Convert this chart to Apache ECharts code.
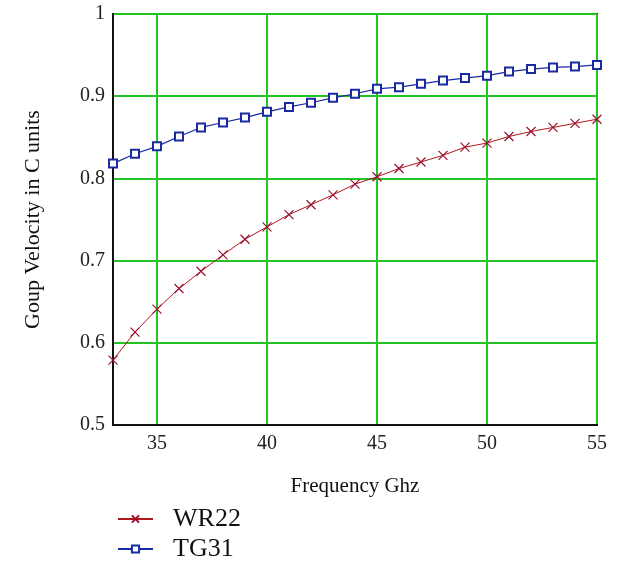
<!DOCTYPE html>
<html><head><meta charset="utf-8">
<script src="https://cdn.jsdelivr.net/npm/echarts@6/dist/echarts.min.js"></script>
<style>html,body{margin:0;padding:0;background:#fff}#c{width:621px;height:563px}</style>
</head><body><div id="c"></div>
<script>
const freq = [33,34,35,36,37,38,39,40,41,42,43,44,45,46,47,48,49,50,51,52,53,54,55];
const wr22 = [0.579,0.613,0.641,0.666,0.687,0.707,0.726,0.741,0.756,0.768,0.780,0.793,0.802,0.812,0.820,0.828,0.838,0.843,0.851,0.857,0.862,0.867,0.872];
const tg31 = [0.818,0.830,0.839,0.851,0.862,0.868,0.874,0.881,0.887,0.892,0.898,0.903,0.909,0.911,0.915,0.919,0.922,0.925,0.930,0.933,0.935,0.936,0.938];
const xTicks = [35,40,45,50,55];
const serif = 'Liberation Serif';
const legendText = {fontFamily:serif,fontSize:26,color:'#111',padding:[0,0,0,15]};
const chart = echarts.init(document.getElementById('c'));
chart.setOption({
  animation:false,
  backgroundColor:'#fff',
  grid:{left:113,right:24,top:14,bottom:138,show:true,borderColor:'#111',borderWidth:2,backgroundColor:'#fff'},
  xAxis:{type:'value',min:33,max:55,
    name:'Frequency Ghz',nameLocation:'middle',nameGap:51,
    nameTextStyle:{fontFamily:serif,fontSize:21,color:'#111'},
    axisLine:{show:true,lineStyle:{color:'#111',width:2}},
    axisTick:{show:false,customValues:xTicks},
    axisLabel:{customValues:xTicks,fontFamily:serif,fontSize:20,color:'#222',margin:9},
    splitLine:{show:true,lineStyle:{color:'#22c422',width:2}}
  },
  yAxis:{type:'value',min:0.5,max:1,interval:0.1,
    name:'Goup Velocity in C units',nameLocation:'middle',nameGap:69,
    nameTextStyle:{fontFamily:serif,fontSize:22,color:'#111'},
    axisLine:{show:true,lineStyle:{color:'#111',width:2}},
    axisTick:{show:false},
    axisLabel:{fontFamily:serif,fontSize:20,color:'#222',margin:8,
      formatter:v=>{const r=Math.round(v*10)/10; return r===1?'1':r.toFixed(1);}},
    splitLine:{show:true,lineStyle:{color:'#22c422',width:2}}
  },
  legend:[
    {left:112,top:501,itemWidth:35,itemHeight:9,textStyle:legendText,data:['WR22']},
    {left:112,top:531,itemWidth:35,itemHeight:9,textStyle:legendText,data:['TG31']}
  ],
  series:[
    {name:'WR22',type:'line',data:freq.map((f,i)=>[f,wr22[i]]),
     symbol:'path://M0,0L10,10M10,0L0,10',symbolSize:9,
     lineStyle:{color:'#b01818',width:1},
     itemStyle:{color:'transparent',borderColor:'#9a1030',borderWidth:1.2}},
    {name:'TG31',type:'line',data:freq.map((f,i)=>[f,tg31[i]]),
     symbol:'emptyRect',symbolSize:8,
     lineStyle:{color:'#1a2aa0',width:1.2},
     itemStyle:{color:'#1a2aa0',borderColor:'#1a2aa0',borderWidth:1.5}}
  ]
});
</script></body></html>
